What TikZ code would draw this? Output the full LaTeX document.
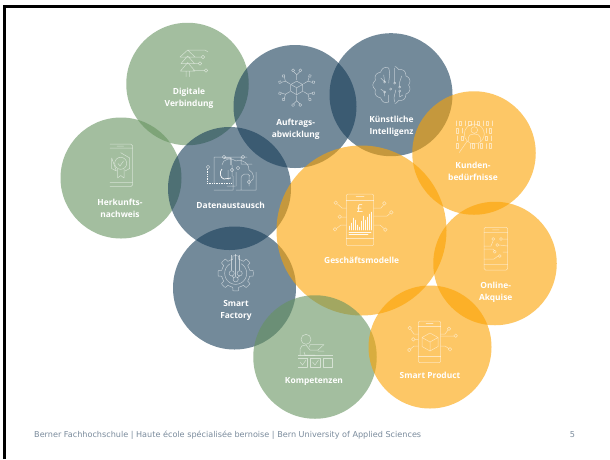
\documentclass[tikz,border=0pt]{standalone}
\usepackage{fontspec}
\setmainfont{Open Sans}
\newfontfamily\footf{DejaVu Sans}
\definecolor{bgreen}{RGB}{102,147,95}
\definecolor{bblue}{RGB}{22,60,88}
\definecolor{borange}{RGB}{252,162,0}
\definecolor{foot}{RGB}{122,139,156}
\tikzset{
  bub/.style={circle,inner sep=0pt,outer sep=0pt,fill opacity=.6,draw=none},
  gbub/.style={bub,fill=bgreen},
  bbub/.style={bub,fill=bblue},
  obub/.style={bub,fill=borange},
  lab/.style={text=white,align=center,inner sep=0pt,font=\fontsize{8.4}{12}\selectfont\bfseries},
  ic/.style={draw=white,draw opacity=.55,line width=.5pt,line cap=round,line join=round},
  icb/.style={draw=white,draw opacity=.95,line width=.7pt},
  frame/.style={draw=black,line width=3pt},
  foottext/.style={text=foot,inner sep=0pt,font=\footf\fontsize{8.1}{9}\selectfont},
}
\newcommand{\pin}[1]{\draw[ic] #1 circle (1.8pt);}
\begin{document}
\begin{tikzpicture}[x=1pt,y=-1pt]
\useasboundingbox (0,0) rectangle (610,459);
\fill[white] (0,0) rectangle (610,459);
\draw[frame] (4.5,459) -- (4.5,6.5) -- (610,6.5);
% circles
\node[gbub,minimum size=122.5pt] (dig) at (187.5,84) {};
\node[gbub,minimum size=121pt] (her) at (121,178) {};
\node[bbub,minimum size=123pt] (auf) at (295,106.5) {};
\node[bbub,minimum size=123pt] (ki) at (391,94.7) {};
\node[bbub,minimum size=123pt] (dat) at (229.5,188.5) {};
\node[bbub,minimum size=123pt] (fac) at (234.5,288) {};
\node[obub,minimum size=170pt] (ges) at (361.5,230.5) {};
\node[obub,minimum size=123.5pt] (kun) at (474,153) {};
\node[obub,minimum size=123.5pt] (onl) at (495,263.5) {};
\node[gbub,minimum size=123.5pt] (kom) at (315,357) {};
\node[obub,minimum size=123pt] (pro) at (430,347) {};
% labels
\node[lab] (ldig) at (189,98) {Digitale\\Verbindung};
\node[lab] (lher) at (120,208) {Herkunfts-\\nachweis};
\node[lab] (lauf) at (295.7,129.3) {Auftrags-\\abwicklung};
\node[lab] (lki) at (391.5,126) {Künstliche\\Intelligenz};
\node[lab] (ldat) at (230.7,205.7) {Datenaustausch};
\node[lab] (lfac) at (236,310) {Smart\\Factory};
\node[lab] (lges) at (361.7,260.7) {Geschäftsmodelle};
\node[lab] (lkun) at (473,171) {Kunden-\\bedürfnisse};
\node[lab] (lonl) at (495.7,292.5) {Online-\\Akquise};
\node[lab] (lkom) at (314,381.7) {Kompetenzen};
\node[lab] (lpro) at (430,375.7) {Smart Product};
% footer
\node[anchor=west,foottext] (foot) at (34,435) {Berner Fachhochschule | Haute école spécialisée bernoise | Bern University of Applied Sciences};
\node[foottext] (page) at (572.5,435) {5};
% icon: Digitale Verbindung
\draw[ic] (187.7,50) -- (180,57) -- (195,57) -- cycle (187.7,56) -- (181,63.5) -- (194.5,63.5) -- cycle (187.7,62.5) -- (180.5,71) -- (195,71) -- cycle (186,71) -- (186,76.5) (189.5,71) -- (189.5,76.5)
 (187.7,50) -- (205,50) -- (208,52) (192,57) -- (201,57) (192,63.5) -- (198,63.5) (193,70.5) -- (204,70.5);
\pin{(203,57)} \pin{(200,63.5)} \pin{(206,70.5)}
% icon: Auftragsabwicklung
\begin{scope}[shift={(296.7,87.7)}]
\draw[ic] (0,-6.5) -- (6,-3.2) -- (6,3.5) -- (0,7) -- (-6,3.5) -- (-6,-3.2) -- cycle (-6,-3.2) -- (0,0) -- (6,-3.2) (0,0) -- (0,7);
\foreach \a in {90,150,210,270,330,30}{
  \begin{scope}[rotate=\a]
  \draw[ic] (8,0) -- (13,0) -- (16,3) (13,0) -- (16,-3);
  \draw[ic] (17.3,3.6) circle (1.5pt) (17.3,-3.6) circle (1.5pt);
  \end{scope}}
\end{scope}
% icon: Kuenstliche Intelligenz
\begin{scope}[shift={(391.7,85)}]
\draw[ic] plot[smooth,domain=100:260,samples=55] (\x:{16.8+2*abs(sin(5.5*\x))});
\draw[ic] plot[smooth,domain=-80:80,samples=55] (\x:{16.8+2*abs(sin(5.5*\x))});
\draw[ic] (-3,-17) .. controls (-1,-10) and (-3,-6) .. (-3,-2) (3,-17) -- (3,-2) (3,17) .. controls (1,12) and (4,8) .. (4,5) (-3,17) -- (-3,10)
 (-11,-7) -- (-7,-3) (-8,-10) -- (-7,-3) (10,-9) -- (8,-3) -- (8,2) (-11,4) -- (-7,7) -- (-7,11) (8,7) -- (8,12) -- (11,10);
\foreach \p in {(-7,-3),(8,2),(-7,7),(8,6),(-1,4),(3,-2)} {\draw[ic] \p circle (1.1pt);}
\end{scope}
% icon: Kundenbeduerfnisse
\begin{scope}[shift={(474.3,135)}]
\foreach \x/\y in {-14/-11.7,-4.5/-11.7,4/-11.7,13/-11.7,-17/-4.3,16/-4.3,-12/3.3,12/3.3,-17/11,-1/11,7/11,16/11} {\draw[ic] (\x,\y) ++(-1.2,-2.3) rectangle ++(2.4,4.6);}
\foreach \x/\y in {-18/-11.7,-9/-11.7,0/-11.7,9/-11.7,17.5/-11.7,-12/-4.3,12/-4.3,-17/3.3,17/3.3,-4/11,4/11,12/11} {\draw[ic] (\x,\y) ++(0,-2.5) -- ++(0,5);}
\draw[ic] (0,-1) circle (10pt) (0,-5) circle (3.3pt) (-6,6) -- (-6,2.5) .. controls (-6,0) and (-3,-1) .. (0,-1) .. controls (3,-1) and (6,0) .. (6,2.5) -- (6,6);
\draw[ic] (-7,6) -- (-15,17.5);
\end{scope}
% icon: Herkunftsnachweis
\draw[ic] (110,144) -- (130.7,144) -- (132.7,146) -- (132.7,184.7) -- (130.7,186.7) -- (110,186.7) (110,148) -- (132.7,148) (110,182.5) -- (132.7,182.5) (117,146) -- (123.5,146);
\draw[ic] (120.7,152.7) -- (129.7,158) -- (129.7,168.5) -- (125,171) (116.4,171) -- (111.7,168.5) -- (111.7,158) -- cycle;
\draw[ic] (120.7,163.3) circle (6pt) (118,163.5) -- (120,166) -- (123.5,161);
\draw[ic] (117.5,169) -- (117.5,178) -- (120.7,175.5) -- (124,178) -- (124,169);
% icon: Datenaustausch
\draw[ic] (214,183.3) -- (214,157) -- (240,157) -- (247,157)
 (241,157) -- (241,164) -- (252,164)
 (222,165) .. controls (222,159) and (232,157) .. (236,161) .. controls (243,158) and (250,165) .. (249,170) .. controls (254,172) and (255,180) .. (251,181)
 (214,190) -- (233,190) -- (233,176) (227,186) -- (235,186) (236,190) -- (256,190) -- (256,172) (241,190) -- (241,178) .. controls (241,174) and (248,172) .. (250,176) (249,176) -- (249,186)
 (236,172) -- (236,186) (232,165) -- (232,176) (228,170) -- (228,180);
\pin{(224,157)} \pin{(243,157)} \pin{(208,167)} \pin{(249,182)} \pin{(232,170)} \pin{(238,168)}
\draw[icb,densely dotted] (207.7,169) -- (207.7,183.3) -- (231,183.3);
\draw[icb] (222,169) .. controls (219,172) and (220,178) .. (224,179) -- (231,178) (224,158) -- (231,158) -- (231,165);
% icon: Geschaeftsmodelle
\draw[ic,rounded corners=2pt] (346.3,194) rectangle (373.7,245.7);
\draw[ic] (346.3,200) -- (373.7,200) (346.3,238) -- (373.7,238) (356,196.3) -- (364,196.3);
\node[text=white,opacity=.9,inner sep=0pt,font=\fontsize{11}{11}\selectfont] (pound) at (360,209) {£};
\foreach \x/\h in {349/4,351/7,353/12,355/10,357/5,359/3,361/9,363/14,365/10,367/13,369/16,371/18} {\draw[ic,draw opacity=.9] (\x,230) -- ++(0,-\h);}
\draw[ic,draw opacity=.9,line width=.9pt] (349,232) -- (371,232) (349,234.5) -- (368,234.5);
\draw[ic] (346.3,208) -- (342,208) -- (337.5,204) (346.3,217) -- (341.5,217) (346.3,225) -- (341,225) -- (336.5,228.5)
 (373.7,208) -- (381,208) -- (383.5,205) (373.7,216) -- (387,216) -- (390,213.5) (373.7,225) -- (380,225) -- (384,228.5);
\foreach \p in {(335.7,202.7),(339.7,216.7),(335,229.3),(384.3,203.3),(391.3,212.3),(385.3,229.7)} {\pin{\p}}
% icon: Online-Akquise
\draw[ic,rounded corners=1.5pt] (484,227.3) rectangle (507.7,270);
\draw[ic] (484,232.5) -- (507.7,232.5) (484,264.5) -- (507.7,264.5) (492.5,229.8) -- (499,229.8)
 (484,246) -- (491,246) -- (493,241) (503,239) -- (507.7,239) (484,249) -- (493,249) -- (494.5,251) (499,245) -- (507.7,246) (503,252) -- (507.7,252) (484,259) -- (494,259) -- (498,256);
\foreach \p in {(493.3,239),(501,239),(497.3,245),(494.7,251.7),(499.7,256)} {\draw[ic] \p circle (1.5pt);}
% icon: Smart Factory
\begin{scope}[shift={(235.7,273.3)}]
\draw[ic] plot[smooth,domain=0:360,samples=121] (\x:{14.2+3.4*max(0,min(1,2.5*sin(8*\x+90)+.3))});
\draw[ic] plot[smooth,domain=-60:240,samples=40] (\x:11);
\draw[ic] (-4,-18) -- (-4,-3) (0,-19) -- (0,3) (4,-18) -- (4,-3);
\draw[ic] (-4,0) circle (2.6pt) (4,0) circle (2.6pt) (0,6) circle (2.6pt);
\draw[ic] (-4,2.6) -- (-1.5,4.5) (4,2.6) -- (1.5,4.5);
\end{scope}
% icon: Kompetenzen
\draw[ic] (306,339.3) circle (5pt);
\draw[ic] (300,355) -- (300,349) .. controls (300,346) and (303,345) .. (306,345) -- (310,350) -- (318,350) (315,355) -- (305,355) -- (304,352) (318,350) -- (324,344.5) -- (310,344.5) -- (309.5,347) (318,351) -- (324,351);
\draw[ic] (298.3,355) -- (332.7,355);
\draw[ic] (298.3,358.3) -- (307.3,358.3) (307.3,367.3) -- (298.3,367.3) (310.7,358.3) rectangle (320,367.3) (323.3,358.3) rectangle (332.7,367.3) (307.3,358.3) -- (307.3,367.3);
\draw[ic] (300,362) -- (302.5,365) -- (306,360) (312.5,362) -- (315,365) -- (318.5,360);
% icon: Smart Product
\draw[ic,rounded corners=2pt] (418.3,321) rectangle (440.7,362.7);
\draw[ic] (418.3,326) -- (440.7,326) (418.3,356.5) -- (440.7,356.5) (426,323.3) -- (433,323.3);
\draw[ic] (430,333) -- (438,337.5) -- (438,346.5) -- (430,351) -- (422,346.5) -- (422,337.5) -- cycle (422,337.5) -- (430,342) -- (438,337.5) (430,342) -- (430,351);
\draw[ic] (418.3,334) -- (414,334) -- (410.7,329.5) (418.3,339.3) -- (415,339.3) (418.3,346) -- (414,346) -- (410.5,349)
 (440.7,334) -- (445,334) -- (448,330) (440.7,336) -- (454,336) (440.7,346) -- (445,346) -- (448.7,348.5);
\foreach \p in {(409.7,328),(413.3,339.3),(409.3,350),(449,328.7),(455.7,335.7),(450,349.3)} {\pin{\p}}
\end{tikzpicture}
\end{document}
